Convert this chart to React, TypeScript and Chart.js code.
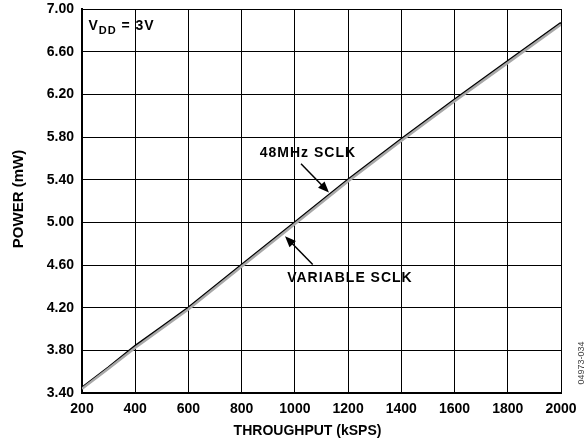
import React, { useEffect, useRef } from "react";
import { Chart, registerables } from "chart.js";

Chart.register(...registerables);

const throughput = [200, 300, 400, 500, 600, 800, 1000, 1200, 1400, 1600, 1800, 2000];
const power48MHz = [3.45, 3.64, 3.84, 4.02, 4.20, 4.60, 5.00, 5.40, 5.78, 6.15, 6.51, 6.87];
const powerVariable = [3.44, 3.63, 3.825, 4.005, 4.185, 4.585, 4.985, 5.385, 5.765, 6.135, 6.495, 6.855];

const xTicks = [200, 400, 600, 800, 1000, 1200, 1400, 1600, 1800, 2000];
const yTicks = [3.4, 3.8, 4.2, 4.6, 5.0, 5.4, 5.8, 6.2, 6.6, 7.0];

const FONT = "'Liberation Sans', Arial, sans-serif";

const annotPlugin = {
  id: "annot",
  afterDraw(chart: any) {
    const { ctx, scales } = chart;
    const xs = scales.x;
    const ys = scales.y;
    const px = (v: number) => xs.getPixelForValue(v);
    const py = (v: number) => ys.getPixelForValue(v);
    ctx.save();
    ctx.fillStyle = "#000";
    ctx.strokeStyle = "#000";
    (ctx as any).letterSpacing = "1px";

    // V_DD = 3V
    ctx.font = `bold 14px ${FONT}`;
    ctx.textBaseline = "alphabetic";
    ctx.textAlign = "left";
    let x0 = px(224);
    const yb = py(6.80);
    ctx.fillText("V", x0, yb);
    x0 += ctx.measureText("V").width;
    ctx.font = `bold 11px ${FONT}`;
    ctx.fillText("DD", x0, yb + 4);
    x0 += ctx.measureText("DD").width;
    ctx.font = `bold 14px ${FONT}`;
    ctx.fillText(" = 3V", x0, yb);

    // labels
    ctx.textAlign = "center";
    ctx.textBaseline = "middle";
    ctx.fillText("48MHz SCLK", px(1049), py(5.645));
    ctx.fillText("VARIABLE SCLK", px(1207), py(4.475));
    (ctx as any).letterSpacing = "0px";

    const arrow = (fx: number, fy: number, tx: number, ty: number) => {
      const ax = px(fx), ay = py(fy), bx = px(tx), by = py(ty);
      const ang = Math.atan2(by - ay, bx - ax);
      const L = 11, W = 4.5;
      ctx.lineWidth = 1.5;
      ctx.beginPath();
      ctx.moveTo(ax, ay);
      ctx.lineTo(bx - Math.cos(ang) * L * 0.8, by - Math.sin(ang) * L * 0.8);
      ctx.stroke();
      ctx.beginPath();
      ctx.moveTo(bx, by);
      ctx.lineTo(bx - Math.cos(ang) * L + Math.sin(ang) * W, by - Math.sin(ang) * L - Math.cos(ang) * W);
      ctx.lineTo(bx - Math.cos(ang) * L - Math.sin(ang) * W, by - Math.sin(ang) * L + Math.cos(ang) * W);
      ctx.closePath();
      ctx.fill();
    };
    arrow(1023, 5.55, 1128, 5.28);
    arrow(1067, 4.605, 963, 4.87);

    // axis titles
    ctx.font = `bold 14px ${FONT}`;
    ctx.textAlign = "center";
    ctx.textBaseline = "middle";
    const ca = chart.chartArea;
    ctx.fillText("THROUGHPUT (kSPS)", (ca.left + ca.right) / 2 - 14, 431);
    ctx.save();
    ctx.translate(19, 199);
    ctx.rotate(-Math.PI / 2);
    ctx.font = `bold 15px ${FONT}`;
    ctx.fillText("POWER (mW)", 0, 0);
    ctx.restore();

    // figure code
    ctx.save();
    ctx.font = `9px ${FONT}`;
    ctx.fillStyle = "#444";
    ctx.translate(582, 363);
    ctx.rotate(-Math.PI / 2);
    ctx.fillText("04973-034", 0, 0);
    ctx.restore();

    ctx.restore();
  },
};

export default function App() {
  const ref = useRef<HTMLCanvasElement | null>(null);
  useEffect(() => {
    document.body.style.margin = "0";
    if (!ref.current) return;
    const chart = new Chart(ref.current, {
      type: "line",
      data: {
        datasets: [
          {
            label: "VARIABLE SCLK",
            data: throughput.map((t, i) => ({ x: t, y: powerVariable[i] })),
            borderColor: "#a8a8a8",
            borderWidth: 2.5,
            pointRadius: 0,
            tension: 0,
          },
          {
            label: "48MHz SCLK",
            data: throughput.map((t, i) => ({ x: t, y: power48MHz[i] })),
            borderColor: "#000",
            borderWidth: 2.4,
            pointRadius: 0,
            tension: 0,
          },
        ],
      },
      options: {
        animation: false,
        responsive: false,
        maintainAspectRatio: false,
        layout: { padding: { top: 9, right: 27, left: 0, bottom: 0 } },
        plugins: { legend: { display: false }, tooltip: { enabled: false } },
        scales: {
          x: {
            type: "linear",
            min: 200,
            max: 2000,
            afterBuildTicks: (s: any) => { s.ticks = xTicks.map((v) => ({ value: v })); },
            afterFit: (s: any) => { s.height = 53; s.paddingLeft = 0; s.paddingRight = 0; },
            ticks: {
              color: "#000",
              padding: 8,
              maxRotation: 0,
              font: { family: FONT, size: 14, weight: "bold" },
              callback: (v: any) => String(v),
            },
            grid: { color: "#000", lineWidth: 1, drawTicks: false },
            border: { color: "#000", width: 2 },
          },
          y: {
            type: "linear",
            min: 3.4,
            max: 7.0,
            afterBuildTicks: (s: any) => { s.ticks = yTicks.map((v) => ({ value: v })); },
            afterFit: (s: any) => { s.width = 82; s.paddingTop = 0; s.paddingBottom = 0; },
            ticks: {
              color: "#000",
              padding: 8,
              font: { family: FONT, size: 14, weight: "bold" },
              callback: (v: any) => Number(v).toFixed(2),
            },
            grid: { color: "#000", lineWidth: 1, drawTicks: false },
            border: { color: "#000", width: 2 },
          },
        },
      },
      plugins: [annotPlugin],
    });
    return () => chart.destroy();
  }, []);
  return (
    <div style={{ position: "relative", width: 588, height: 446, background: "#fff" }}>
      <canvas ref={ref} width={588} height={446} style={{ display: "block", width: 588, height: 446 }} />
    </div>
  );
}
